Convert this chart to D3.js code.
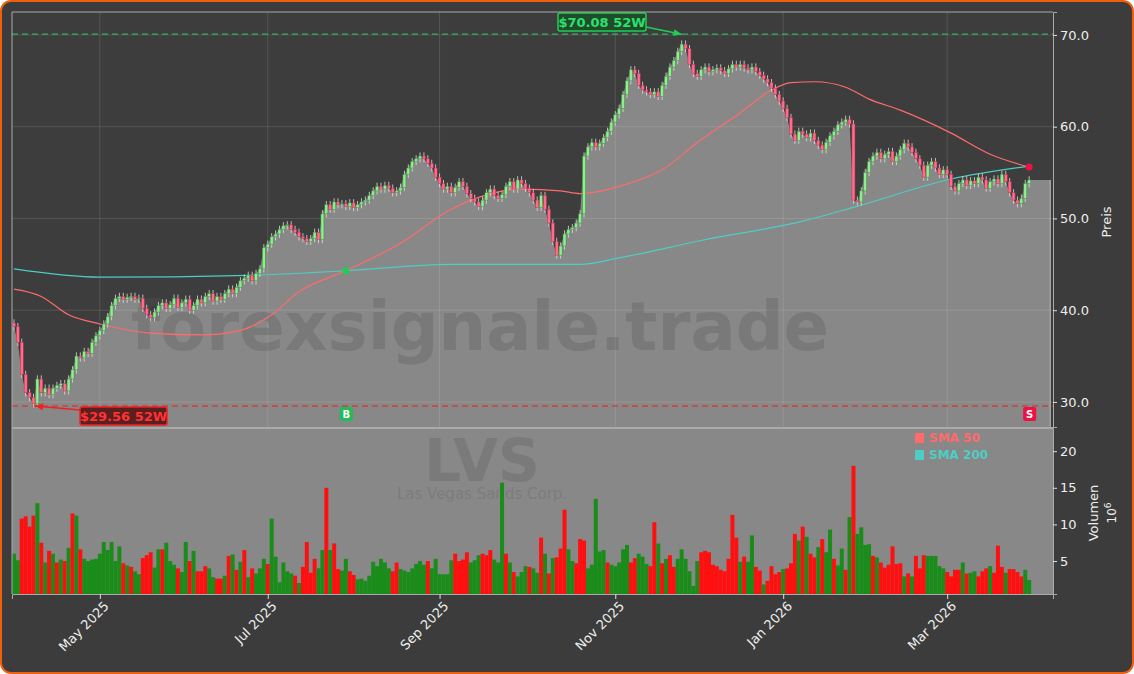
<!DOCTYPE html>
<html lang="en">
<head>
<meta charset="utf-8">
<title>LVS</title>
<script src="https://d3js.org/d3.v7.min.js"></script>
<style>
  body{ margin:0; background:#fff; font-family:"DejaVu Sans", sans-serif;}
</style>
</head>
<body>
<div class="chart"></div>
<script>
// DATA ------------------------------
const closes = [
 38.2,36.5,33,31,30.5, 29.8,32.5,31,31.5,30.8, 31.5,31.8,32,31.2,32.5, 33.5,35,34.8,35.5,35.3,
 36.5,37.2,37.8,38.5,39.3, 40.5,41.3,41.5,41.2,41.4, 41.5,41.2,41.3,40.2,39.5, 39.2,39.8,40.5,40.8,40.2,
 40.6,41.3,40.3,40.8,41.2, 40,40.5,41.2,40.8,41.5, 41.8,41,41.5,41.2,41.8, 42.3,41.8,42.5,43.2,43.5,
 43.8,43.2,44,44.5,46.8, 47.2,48,48.3,48.8,49.2, 49.3,48.8,48.5,48,47.8, 47.5,47.8,48.5,47.7,50.5,
 51.5,51,51.8,51.5,51.6, 51.3,51.7,51.2,51.5,51.8, 52,52.5,53,53.5,53.2, 53.6,53.3,52.8,53,53.4,
 54.8,55.5,56.2,56.5,56.8, 56.5,56,55.5,54.5,53.8, 53.2,53.5,52.8,53.4,54, 53.5,52.7,52.2,51.8,51.3,
 52,52.8,53.2,52.5,52.2, 52.6,53.5,54,53.2,54.2, 53.8,53.3,52.8,52,51.2, 52.5,51,49.5,47.5,46,
 47,48.3,48.8,49,49.5, 50.5,56.8,57.8,58.3,57.8, 58.2,58.8,59.5,60.5,61.3, 62,63.5,65,66.2,65.8,
 64.5,64,63.8,63.5,63.8, 63.3,64.5,65.5,66.5,67.2, 68.2,69,68.5,66.8,65.8, 65.5,66.2,66.5,66,66.2,
 66.4,66.1,65.8,66.3,66.8, 66.5,66.8,66.4,66.2,66.5, 66,65.6,65.2,64.8,64.2, 63.5,62.8,62,61,59.2,
 58.5,59.5,59.2,58.8,59.3, 58.5,58,57.5,58.3,59, 59.5,60.2,60.5,60.8,60.3, 52,51.8,53,55,56.2,
 56.8,57.2,56.5,57,57.3, 56.2,56.8,57.5,58.2,57.8, 57.2,56.5,55.8,54.5,55.8, 56.2,55.5,54.8,55.3,54.8,
 53.5,53,53.8,54.2,53.6, 54.1,53.8,54.5,54.2,53.3, 54,54.3,53.8,54.8,54, 52.8,52,51.6,52.2,53.8,54.2
];
// volume in millions, and direction of the day (1 = up / green, 0 = down / red)
const volumes = [
 6,5.1,10.8,11.1,9.7,11.2,12.9,7.5,4.8,6.4, 6,4.8,5.2,5,6.8,11.5,11.2,6.6,5.3,5,
 5.2,5.3,6,7.6,6.5,7.6,5,7,4.7,4.4, 4.2,3.6,3.2,5.4,5.8,6.2,4.1,6.6,6.6,7.5, 5,4.5,4,3.5,
 7.6,5,6.4,3.6,3.6,4.3,4,2.8,2.6,2.6, 3,5.7,5.9,3.8,4.9,6.5,2.8,4,3.3,4,
 5.3,4.6,10.8,5.6,2.1,4.8,3.6,3.3,3,2, 4.2,7.6,3.4,5.3,4,6.5,15,6.5,7.4,3.9,
 3.7,5.3,3.6,3.1,2.5,2.6,2.3,3,4.9,4.3,
 5.3,4.8,4,3.6,4.8,3.9,3.7,3.5,4,4.6, 5,4.5,5,4,
 5.3,3.2,3.2,3.2,5.1,6,5,5.2,6.2,4.8, 5.1,5.8,6,5.8,6.5,5.2,4.8,15.7,6,4.8,
 3.5,2.9,3.5,4.3,4.2,4,3.4,8.2,6,3.3, 5.4,5.5,6.7,12,6.6,5,4.7,8,7.8,4,
 4.5,13.5,6.3,6.5,4.8,4.5,4.3,4.8,6.6,7.2, 4.8,5.4,6,5.6,4.6,4.3,10.3,7.4,4.7,5.3,
 5.8,4.2,5.3,6.6,5.3,3.6,1.6,5,6.2,6.4, 6.2,4.5,4.3,3.8,3.6,5.3,11.3,8.2,4.9,5.6,
 4.9,8.5,4.2,3.7,1.8,2.3,4.3,3.2,3.5,3.9, 4,4.7,8.7,7.8,9.7,8.3,6,5.5,6.9,8,
 6.2,9.3,5.3,4.4,6.7,3.8,11,18,8.7,9.6, 7.2,7.3,5.7,5.5,4.8,4.1,4.5,7,4.6,4.7,
 2.9,3.3,2.9,5.7,4,5.8,5.7,5.7,5.7,4.3, 4,3.5,
 2.9,3.8,3.8,4.8,3.3,3.4,3.6,2.9,3.6,4, 4.3,3.4,7.1,4.2,3.4,3.9,3.9,3.5,2.9,3.8,2.4
];
const volUp = [
 1,1,0,0,0,0,1,0,1,0, 1,0,1,0,1,0,1,0,1,1,
 1,1,1,1,1,1,1,1,0,1, 0,1,1,0,0,0,1,1,0,1, 1,1,0,1,
 1,0,1,0,0,0,1,1,0,0, 1,0,1,0,1,0,1,0,1,1,
 1,0,1,1,1,1,1,1,0,1, 0,0,0,0,1,1,0,1,0,0,
 1,1,0,0,1,1,1,1,1,1,
 1,1,1,0,0,1,1,1,1,1, 1,1,0,1,
 1,1,1,1,1,0,0,0,0,1, 1,1,0,0,0,1,1,1,0,1,
 0,1,1,1,0,1,1,0,1,0, 1,0,0,0,1,1,0,0,0,1,
 1,1,1,1,0,1,1,1,1,1, 0,0,1,1,1,0,0,1,0,1,
 0,0,1,1,1,1,1,1,0,0, 0,0,0,0,0,0,0,0,1,0,
 1,1,0,0,1,0,0,0,0,1, 0,0,0,1,0,1,0,0,1,0,
 1,1,0,1,1,0,1,0,1,1, 1,1,0,1,0,0,0,0,0,0,
 1,0,1,0,0,0,1,1,1,1, 1,0,
 0,0,0,1,0,1,1,0,0,0, 1,0,0,0,1,0,0,0,0,1,1
];
const sma50Idx = [0,7,14,22,35,48,58,66,73,85,99,112,119,130,140,145,155,166,176,186,194,199,205,213,219,227,240,250,260];
const sma50Val = [42.3,41.5,39.5,38.5,37.5,37.3,37.8,39.5,42,44.3,47.3,51,52.3,53.2,53,52.7,53.5,55.3,58.6,61.5,64,64.8,64.9,64.3,63,61.8,59.3,57,55.6];
const sma200Idx = [0,22,60,85,112,145,155,176,202,215,240,260];
const sma200Val = [44.5,43.6,43.8,44.3,45,45,45.7,47.6,49.7,51.2,54.3,55.7];
const high52 = 70.08, low52 = 29.56;
const priceTicks = [30, 40, 50, 60, 70];
const volTicks = [5, 10, 15, 20];
const monthTicks = [new Date(2025,4,1), new Date(2025,6,1), new Date(2025,8,1), new Date(2025,10,1), new Date(2026,0,1), new Date(2026,2,1)];

// trading days (weekdays) Apr 1 2025 .. Mar 31 2026
const dates = [];
for (let d = new Date(2025, 3, 1); d <= new Date(2026, 2, 31); d = d3.timeDay.offset(d, 1)) {
  if (d.getDay() !== 0 && d.getDay() !== 6) dates.push(new Date(d));
}
const bars = closes.map((c, i) => {
  const o = i === 0 ? 38.6 : closes[i - 1];
  return {i, o, c, h: Math.max(o, c) + 0.4, l: Math.min(o, c) - 0.4, v: volumes[i], up: volUp[i]};
});
// index of first trading day of each tick month
const tickIdx = monthTicks.map(m => dates.findIndex(d => d >= m));

// CHART ------------------------------
const W = 1134, H = 674;
const L = 12, R = 1053, pTop = 12, pBot = 427, vBot = 594;
const svg = d3.select(".chart").append("svg").attr("width", W).attr("height", H);
svg.append("rect").attr("x", 1).attr("y", 1).attr("width", W - 2).attr("height", H - 2)
  .attr("rx", 10).attr("fill", "#3c3c3c").attr("stroke", "#f0600c").attr("stroke-width", 2);

const x = d3.scaleLinear().domain([-0.5, 266.1]).range([L, R]);
const y = d3.scaleLinear().domain([27.27, 72.5]).range([pBot, pTop]);
const yv = d3.scaleLinear().domain([0.5, 23.3]).range([vBot, pBot]);

svg.append("clipPath").attr("id", "pc").append("rect").attr("x", L).attr("y", pTop).attr("width", R - L).attr("height", pBot - pTop);
const pg = svg.append("g").attr("clip-path", "url(#pc)");
pg.append("rect").attr("x", L).attr("y", pTop).attr("width", R - L).attr("height", pBot - pTop).attr("fill", "#3d3d3d");

// area under close
const lastC = closes[closes.length - 1];
const endIdx = 265.4;
const areaPts = bars.map(b => [x(b.i), y(b.c)]);
areaPts.unshift([L, y(closes[0])]);
areaPts.push([x(endIdx), y(lastC)]);
pg.append("path").attr("fill", "#888888")
  .attr("d", d3.area().x(d => d[0]).y0(pBot).y1(d => d[1])(areaPts));
pg.append("line").attr("x1", x(endIdx)).attr("x2", x(endIdx)).attr("y1", y(lastC)).attr("y2", pBot).attr("stroke", "#bbb");
pg.selectAll(".gx").data(tickIdx).join("line").attr("x1", d => x(d)).attr("x2", d => x(d))
  .attr("y1", pTop).attr("y2", pBot).attr("stroke", "#fff").attr("stroke-opacity", 0.12);
pg.selectAll(".gy").data(priceTicks).join("line").attr("x1", L).attr("x2", R)
  .attr("y1", d => y(d)).attr("y2", d => y(d)).attr("stroke", "#fff").attr("stroke-opacity", 0.12);

pg.append("text").attr("x", 480).attr("y", 350).attr("text-anchor", "middle")
  .attr("font-size", 67).attr("font-weight", "bold").attr("fill", "#555").attr("fill-opacity", 0.3)
  .text("forexsignale.trade");

// 52W lines
pg.append("line").attr("x1", L).attr("x2", R).attr("y1", y(high52)).attr("y2", y(high52))
  .attr("stroke", "#2ecc71").attr("stroke-dasharray", "6,4").attr("stroke-width", 1.3).attr("stroke-opacity", 0.8);
pg.append("line").attr("x1", L).attr("x2", R).attr("y1", y(low52)).attr("y2", y(low52))
  .attr("stroke", "#e03030").attr("stroke-dasharray", "6,4").attr("stroke-width", 1.3).attr("stroke-opacity", 0.8);

// SMAs
const line = d3.line().curve(d3.curveMonotoneX);
pg.append("path").attr("fill", "none").attr("stroke", "#4ecdc4").attr("stroke-width", 1.2)
  .attr("d", line(sma200Idx.map((k, i) => [x(k), y(sma200Val[i])])));
pg.append("path").attr("fill", "none").attr("stroke", "#ff6b6b").attr("stroke-width", 1.2)
  .attr("d", line(sma50Idx.map((k, i) => [x(k), y(sma50Val[i])])));

// candles
const cg = pg.selectAll(".c").data(bars).join("g");
cg.append("line").attr("x1", d => x(d.i)).attr("x2", d => x(d.i))
  .attr("y1", d => y(d.h)).attr("y2", d => y(d.l)).attr("stroke", "#ddd").attr("stroke-width", 0.8);
cg.append("rect").attr("x", d => x(d.i) - 1.5).attr("width", 3)
  .attr("y", d => y(Math.max(d.o, d.c))).attr("height", d => Math.max(1, Math.abs(y(d.o) - y(d.c))))
  .attr("fill", d => d.c >= d.o ? "#90ee90" : "#ff6b8a").attr("stroke", d => d.c >= d.o ? "#3c8c3c" : "#c03050").attr("stroke-width", 0.5);

// signals
const bIdx = 85, sIdx = 260;
pg.append("circle").attr("cx", x(bIdx)).attr("cy", y(44.3)).attr("r", 3.5).attr("fill", "#22cc55");
pg.append("circle").attr("cx", x(sIdx)).attr("cy", y(55.6)).attr("r", 3.5).attr("fill", "#ee1144");
[[bIdx, "B", "#22bb55"], [sIdx, "S", "#ee1144"]].forEach(([k, t, c]) => {
  pg.append("rect").attr("x", x(k) - 6).attr("y", 407).attr("width", 13).attr("height", 14).attr("rx", 2).attr("fill", c);
  pg.append("text").attr("x", x(k) + 0.5).attr("y", 418).attr("text-anchor", "middle").attr("font-size", 10)
    .attr("font-weight", "bold").attr("fill", "#fff").text(t);
});

// annotations
function arrow(bx, by, tx, ty, col) {
  svg.append("line").attr("x1", bx).attr("y1", by).attr("x2", tx).attr("y2", ty).attr("stroke", col).attr("stroke-width", 1.5);
  svg.append("path").attr("fill", col).attr("transform", `translate(${tx},${ty}) rotate(${Math.atan2(ty - by, tx - bx) * 180 / Math.PI})`)
    .attr("d", "M0,0L-8,-3.5L-8,3.5Z");
}
arrow(646, 27, x(171), y(high52), "#22cc55");
arrow(80, 410, 35, y(low52), "#ee2222");
svg.append("rect").attr("x", 558).attr("y", 13).attr("width", 88).attr("height", 18).attr("rx", 2).attr("fill", "#1f4d2a").attr("stroke", "#22cc55").attr("stroke-width", 1.5);
svg.append("text").attr("x", 602).attr("y", 27).attr("text-anchor", "middle").attr("font-size", 13).attr("font-weight", "bold").attr("fill", "#2ee070").text("$70.08 52W");
svg.append("rect").attr("x", 80).attr("y", 407).attr("width", 87).attr("height", 18).attr("rx", 2).attr("fill", "#5a1f1f").attr("stroke", "#ee2222").attr("stroke-width", 1.5);
svg.append("text").attr("x", 123.5).attr("y", 421).attr("text-anchor", "middle").attr("font-size", 13).attr("font-weight", "bold").attr("fill", "#ff3333").text("$29.56 52W");

// volume panel
svg.append("rect").attr("x", L).attr("y", pBot).attr("width", R - L).attr("height", vBot - pBot).attr("fill", "#888888");
svg.append("line").attr("x1", L).attr("x2", R).attr("y1", pBot + 1).attr("y2", pBot + 1).attr("stroke", "#aaa").attr("stroke-width", 2);
svg.append("text").attr("x", 482).attr("y", 481).attr("text-anchor", "middle").attr("font-size", 58).attr("font-weight", "bold").attr("fill", "#7a7a7a").text("LVS");
svg.append("text").attr("x", 482).attr("y", 499).attr("text-anchor", "middle").attr("font-size", 15).attr("fill", "#7c7c7c").text("Las Vegas Sands Corp.");
svg.selectAll(".vb").data(bars).join("rect")
  .attr("x", d => x(d.i) - 2).attr("width", 4)
  .attr("y", d => yv(d.v)).attr("height", d => vBot - yv(d.v))
  .attr("fill", d => d.up ? "#1a8c1a" : "#ff1010");

// legend
[["SMA 50", "#ff6b6b", 438], ["SMA 200", "#4ecdc4", 455]].forEach(([t, c, yy]) => {
  svg.append("rect").attr("x", 915).attr("y", yy - 5).attr("width", 9).attr("height", 10).attr("fill", c);
  svg.append("text").attr("x", 929).attr("y", yy + 4).attr("font-size", 12).attr("font-weight", "bold").attr("fill", c).text(t);
});

// axes
const yAx = svg.append("g").attr("transform", `translate(${R},0)`).call(d3.axisRight(y).tickValues(priceTicks).tickFormat(d3.format(".1f")).tickSize(4));
const vAx = svg.append("g").attr("transform", `translate(${R},0)`).call(d3.axisRight(yv).tickValues(volTicks).tickSize(4));
const xAx = svg.append("g").attr("transform", `translate(0,${vBot})`)
  .call(d3.axisBottom(x).tickValues(tickIdx).tickFormat((d, i) => d3.timeFormat("%b %Y")(monthTicks[i])).tickSize(5));
[yAx, vAx, xAx].forEach(a => {
  a.selectAll("path").attr("stroke", "#aaa");
  a.selectAll("line").attr("stroke", "#ddd");
  a.selectAll("text").attr("fill", "#eee").attr("font-size", 13).attr("font-family", "DejaVu Sans");
});
xAx.selectAll("text").attr("text-anchor", "end").attr("transform", "rotate(-45)").attr("dx", "-0.2em").attr("dy", "0.6em");
svg.append("line").attr("x1", L).attr("x2", L).attr("y1", pTop).attr("y2", vBot).attr("stroke", "#aaa");
svg.append("line").attr("x1", L).attr("x2", R).attr("y1", pTop).attr("y2", pTop).attr("stroke", "#aaa");

svg.append("text").attr("transform", "translate(1111,222) rotate(-90)").attr("text-anchor", "middle").attr("font-size", 13).attr("fill", "#eee").text("Preis");
svg.append("text").attr("transform", "translate(1098,513) rotate(-90)").attr("text-anchor", "middle").attr("font-size", 13).attr("fill", "#eee").text("Volumen");
svg.append("text").attr("transform", "translate(1116,513) rotate(-90)").attr("text-anchor", "middle").attr("font-size", 12).attr("fill", "#eee")
  .html('10<tspan dy="-5" font-size="9">6</tspan>');
</script>
</body>
</html>
